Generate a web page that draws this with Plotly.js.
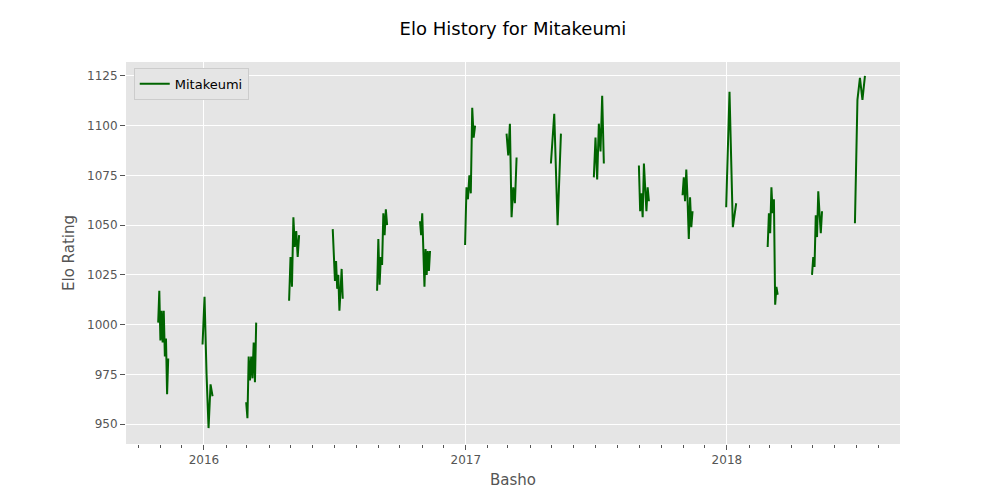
<!DOCTYPE html>
<html>
<head>
<meta charset="utf-8">
<script src="https://cdn.plot.ly/plotly-3.0.1.min.js"></script>
<style>body{margin:0;background:#fff}</style>
</head>
<body>
<div id="chart" style="width:1000px;height:500px"></div>
<script>
// first day of each basho (as placed on the x axis) and the ratings through it
var bashoStart = ["2015-10-29", "2015-12-30", "2016-02-29", "2016-04-29", "2016-06-29", "2016-08-30",
	"2016-10-29", "2016-12-31", "2017-02-27", "2017-04-30", "2017-06-29", "2017-08-31",
	"2017-10-31", "2017-12-31", "2018-02-27", "2018-04-30", "2018-06-29"];
var bashoElo = [
	[1001, 1017, 992, 1007, 991, 1007, 984, 993, 965, 983],
	[990, 1014, 975, 948, 970, 964],
	[961, 953, 984, 972, 984, 973, 991, 971, 1001],
	[1012, 1034, 1019, 1054, 1039, 1047, 1034, 1045],
	[1048, 1036, 1022, 1032, 1018, 1025, 1007, 1017, 1028, 1013],
	[1017, 1043, 1020, 1034, 1030, 1056, 1045, 1058, 1050],
	[1052, 1045, 1056, 1030, 1019, 1038, 1025, 1037, 1027, 1037],
	[1040, 1069, 1063, 1075, 1066, 1109, 1094, 1100],
	[1096, 1085, 1101, 1054, 1069, 1061, 1084],
	[1081, 1106, 1050, 1096],
	[1074, 1094, 1073, 1101, 1087, 1115, 1081],
	[1080, 1057, 1066, 1054, 1081, 1068, 1057, 1069, 1062],
	[1065, 1074, 1062, 1078, 1063, 1043, 1064, 1049, 1057],
	[1059, 1117, 1049, 1061],
	[1039, 1056, 1046, 1069, 1056, 1063, 1010, 1019, 1015],
	[1025, 1034, 1029, 1055, 1044, 1067, 1056, 1046, 1057],
	[1051, 1113, 1124, 1113, 1125]
];
var bashoDays = 15;

var x = [], y = [];
for (var b = 0; b < bashoStart.length; b++) {
	var s = new Date(bashoStart[b] + "T00:00:00Z").getTime();
	var vals = bashoElo[b];
	for (var i = 0; i < vals.length; i++) {
		var d = new Date(s + i * (bashoDays - 1) / (vals.length - 1) * 86400000);
		x.push(d.toISOString().slice(0, 19).replace("T", " "));
		y.push(vals[i]);
	}
	x.push(null); y.push(null);
}

var data = [{
	x: x, y: y, type: "scatter", mode: "lines", name: "Mitakeumi",
	connectgaps: false,
	line: {color: "#006400", width: 2}
}];

var layout = {
	width: 1000, height: 500,
	paper_bgcolor: "#fff", plot_bgcolor: "#e5e5e5",
	margin: {l: 126, r: 100, t: 62, b: 56},
	font: {family: "DejaVu Sans", color: "#555", size: 12},
	title: {text: "Elo History for Mitakeumi", font: {size: 18, color: "#000"}, x: 0.513, y: 0.955, xanchor: "center"},
	showlegend: true,
	legend: {x: 0.01, y: 0.985, xanchor: "left", yanchor: "top", bgcolor: "#e5e5e5",
		bordercolor: "#ccc", borderwidth: 1, font: {size: 13, color: "#000"}},
	xaxis: {
		type: "date", range: ["2015-09-14", "2018-08-31"],
		dtick: "M12", tick0: "2016-01-01", tickformat: "%Y",
		ticks: "outside", ticklen: 5, tickcolor: "#555",
		minor: {dtick: "M1", ticks: "outside", ticklen: 3, tickcolor: "#555", showgrid: false},
		gridcolor: "#fff", gridwidth: 1, zeroline: false, showline: false,
		title: {text: "Basho", font: {size: 15, color: "#555"}, standoff: 8}
	},
	yaxis: {
		range: [940, 1132], dtick: 25, tick0: 950,
		ticks: "outside", ticklen: 5, tickcolor: "#555",
		gridcolor: "#fff", gridwidth: 1, zeroline: false, showline: false,
		title: {text: "Elo Rating", font: {size: 15, color: "#555"}, standoff: 8}
	}
};

Plotly.newPlot("chart", data, layout, {displayModeBar: false});
</script>
</body>
</html>
